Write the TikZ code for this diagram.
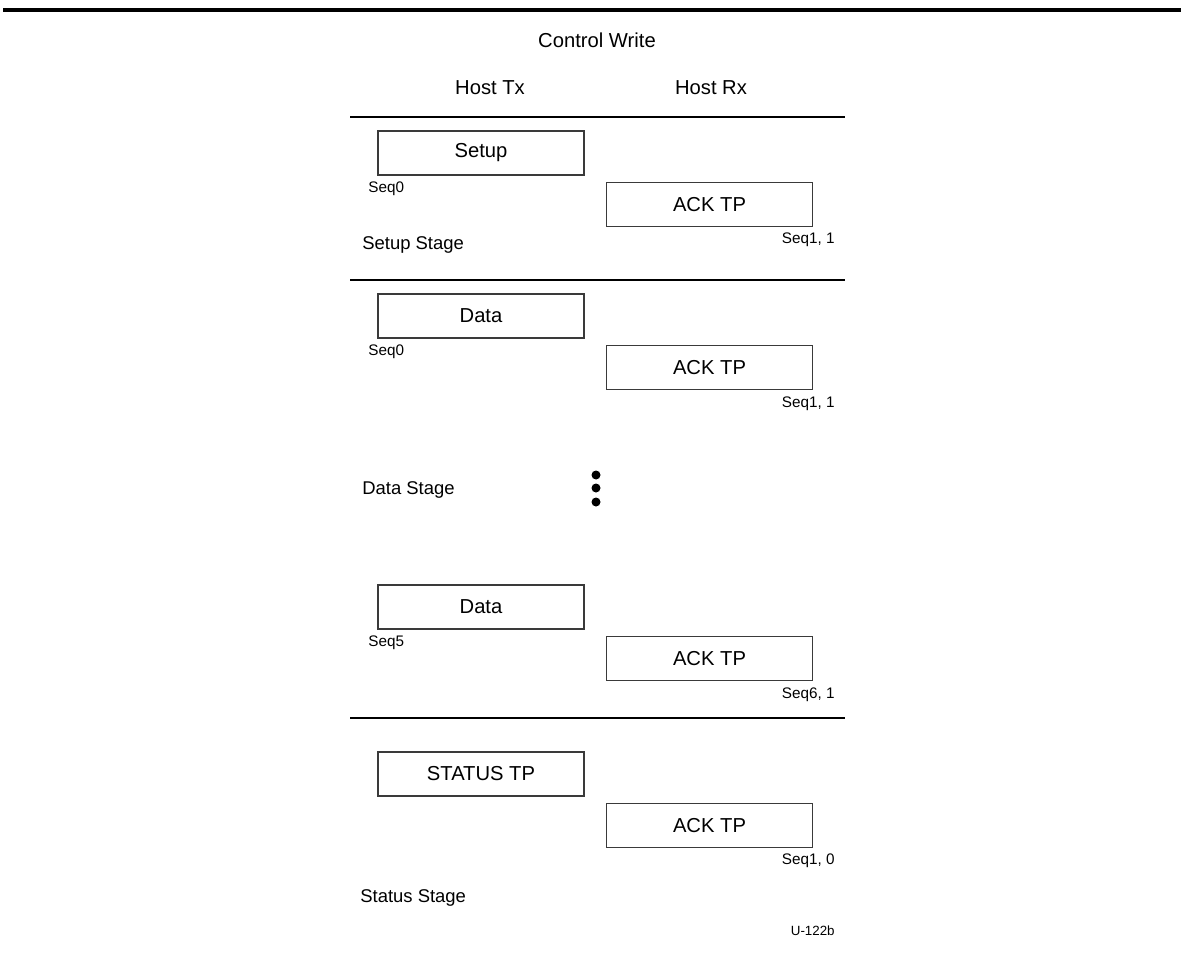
\documentclass[tikz,border=0pt]{standalone}
\usepackage{fontspec}
\setmainfont{Liberation Sans}
\usepackage{tikz}
\definecolor{WireLine}{HTML}{000000}
\definecolor{BoxLine}{HTML}{3A3A3A}

\tikzset{
  pkt/.style={draw=BoxLine,line width=0.6pt,minimum width=4.12cm,minimum height=0.88cm,
    inner sep=0pt,font=\fontsize{11.5}{13}\selectfont},
  head/.style={font=\fontsize{11.5}{13}\selectfont,anchor=base},
  seqleft/.style={font=\fontsize{8.7}{10}\selectfont,anchor=base west,inner sep=0pt},
  seqright/.style={font=\fontsize{8.7}{10}\selectfont,anchor=base east,inner sep=0pt},
  stage/.style={font=\fontsize{10.5}{12}\selectfont,anchor=base west,inner sep=0pt}
}

\begin{document}
\begin{tikzpicture}[x=0.02cm,y=-0.02cm]
      \useasboundingbox (0,0) rectangle (1181,953);
      \fill[white] (0,0) rectangle (1181,953);
      % rule at top of page
      \coordinate (ruleL) at (3,10);
      \coordinate (ruleR) at (1181,10);
      \draw[WireLine,line width=2.2pt] (ruleL) -- (ruleR);
      \node[head] (title) at (597,48) {Control Write};
      \node[head] (hosttx) at (490,95) {Host Tx};
      \node[head] (hostrx) at (711,95) {Host Rx};
      % stage separators
      \foreach \y [count=\i] in {117,280,718} {
        \coordinate (sepL\i) at (350,\y);
        \coordinate (sepR\i) at (845,\y);
        \draw[WireLine,line width=0.85pt] (sepL\i) -- (sepR\i);
      }
      % setup stage
      \node[pkt] (setup) at (481,153) {Setup};
      \node[seqleft] (seqA) at (368,192.5) {Seq0};
      \node[pkt] (ackA) at (709.5,204.5) {ACK TP};
      \node[seqright] (seqB) at (835,243.5) {Seq1, 1};
      \node[stage] (setupstage) at (362,250) {Setup Stage};
      % data stage
      \node[pkt] (dataA) at (481,316) {Data};
      \node[seqleft] (seqC) at (368,355.5) {Seq0};
      \node[pkt] (ackB) at (709.5,367.5) {ACK TP};
      \node[seqright] (seqD) at (835,407.5) {Seq1, 1};
      \node[stage] (datastage) at (362,494) {Data Stage};
      \foreach \y in {475,488,502} {
        \fill[WireLine] (596,\y) circle (4.5);
      }
      \node[pkt] (dataB) at (481,607) {Data};
      \node[seqleft] (seqE) at (368,646.5) {Seq5};
      \node[pkt] (ackC) at (709.5,658.5) {ACK TP};
      \node[seqright] (seqF) at (835,698.5) {Seq6, 1};
      % status stage
      \node[pkt] (status) at (481,774) {STATUS TP};
      \node[pkt] (ackD) at (709.5,825.5) {ACK TP};
      \node[seqright] (seqG) at (835,864.5) {Seq1, 0};
      \node[stage] (statusstage) at (360,902) {Status Stage};
      \node[seqright,font=\fontsize{7.6}{9}\selectfont] (figid) at (835,935.5) {U-122b};
    \end{tikzpicture}
\end{document}
